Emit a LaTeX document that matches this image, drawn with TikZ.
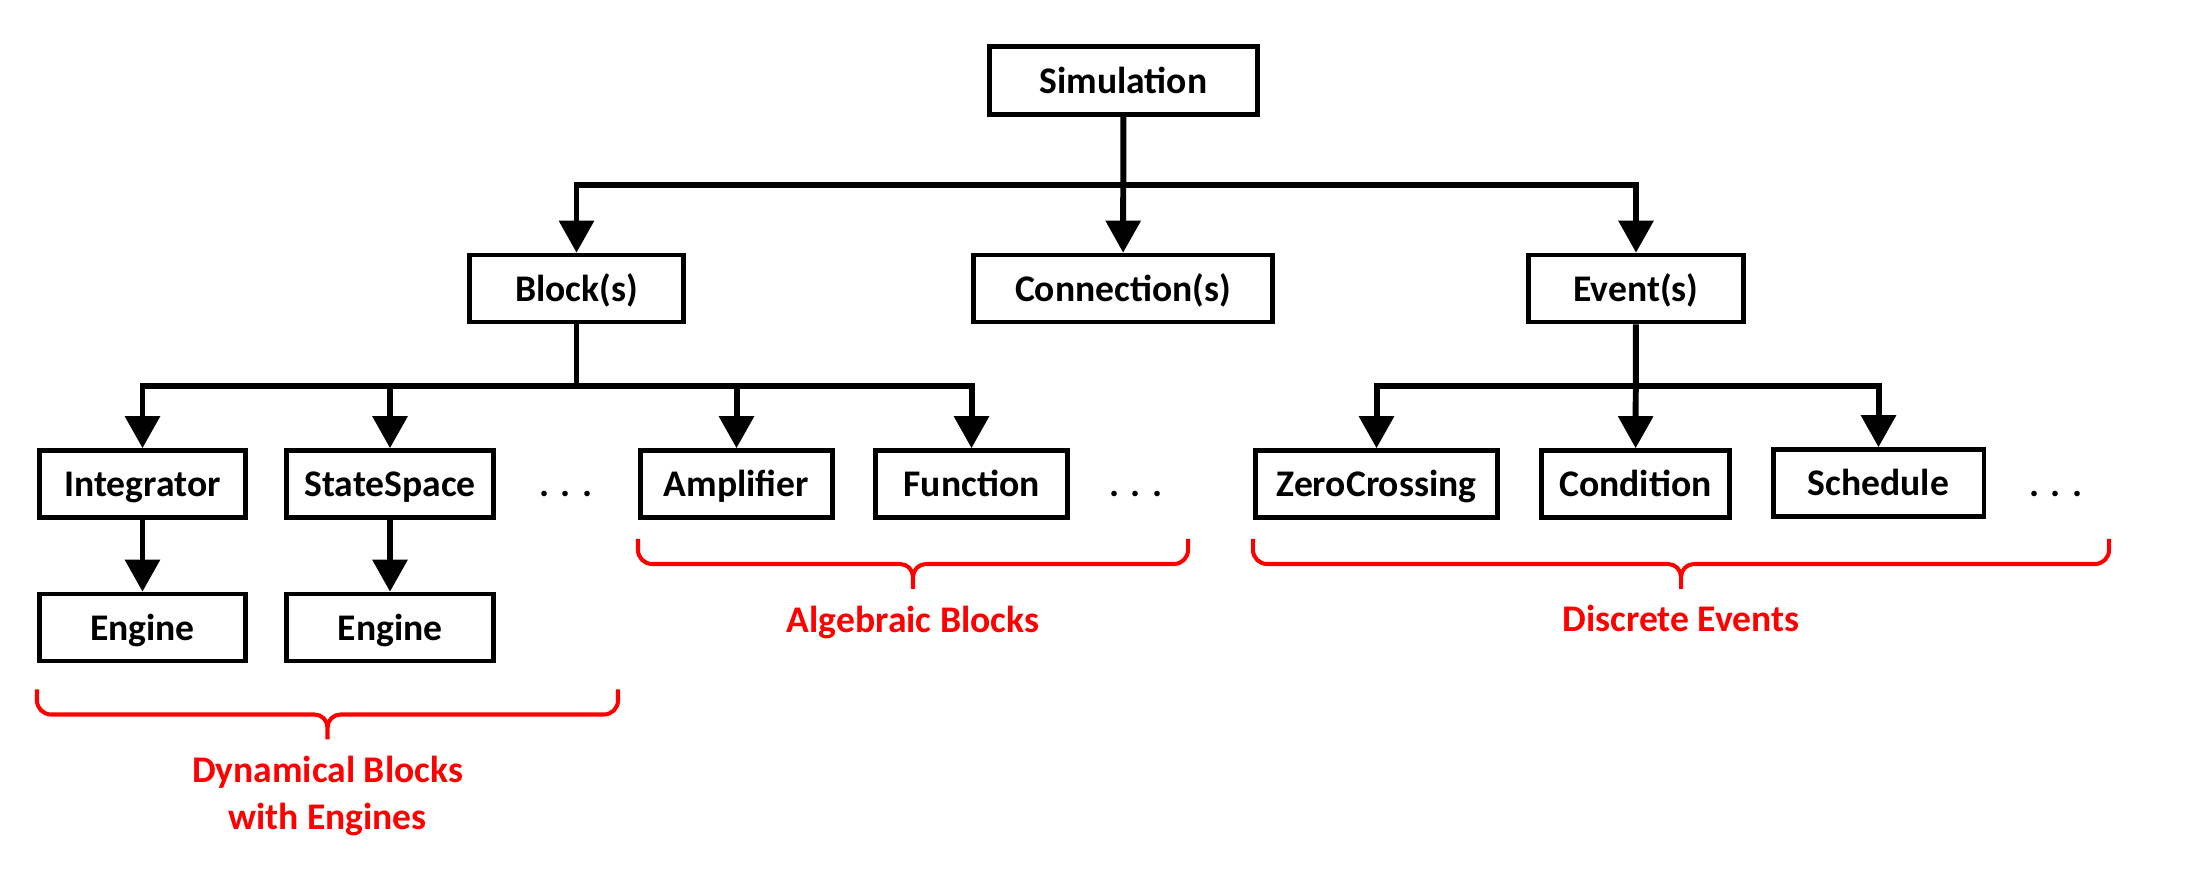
\documentclass[tikz,border=0pt]{standalone}
\usepackage{fontspec}
\setmainfont{Carlito}
\usetikzlibrary{arrows.meta}

\begin{document}
\begin{tikzpicture}[every node/.style = {font = \bfseries\fontsize{10.7}{13}\selectfont},
  box/.style = {draw, line width = 1.3pt, inner sep = 0pt, minimum height = 0.67cm, text height = 0.34cm, text depth = 0.08cm},
  link/.style = {-{Triangle[width = 0.34cm, length = 0.32cm]}, line width = 1.7pt},
  curly/.style = {draw = red, line width = 1.15pt},
  note/.style = {text = red, anchor = base}]
\useasboundingbox (0, 0) rectangle (22.09, 8.75);
% tree
\node[box, minimum width = 2.685cm, minimum height = 0.685cm] (v0) at (11.235, 7.945) {Simulation};
\node[box, minimum width = 2.145cm] (v1) at (5.765, 5.865) {Block(s)};
\node[box, minimum width = 2.995cm] (v2) at (11.23, 5.865) {Connection(s)};
\node[box, minimum width = 2.155cm] (v3) at (16.36, 5.865) {Event(s)};
\node[box, minimum width = 2.065cm] (v4) at (1.425, 3.91) {Integrator};
\node[box, minimum width = 2.075cm] (v5) at (3.90, 3.91) {StateSpace};
\node[box, minimum width = 1.925cm] (v6) at (7.365, 3.91) {Amplifier};
\node[box, minimum width = 1.925cm] (v7) at (9.715, 3.91) {Function};
\node[box, minimum width = 2.425cm] (v8) at (13.765, 3.91) {ZeroCrossing};
\node[box, minimum width = 1.885cm] (v9) at (16.355, 3.91) {Condition};
\node[box, minimum width = 2.105cm] (v10) at (18.785, 3.92) {Schedule};
\node[box, minimum width = 2.065cm] (v11) at (1.425, 2.475) {Engine};
\node[box, minimum width = 2.075cm] (v12) at (3.90, 2.475) {Engine};
\node[anchor = base] (d1) at (5.66, 3.78) {. . .};
\node[anchor = base] (d2) at (11.36, 3.78) {. . .};
\node[anchor = base] (d3) at (20.56, 3.78) {. . .};
% connectors
\coordinate (j0) at (11.235, 6.90);
\coordinate (j1) at (5.765, 4.89);
\coordinate (j2) at (16.36, 4.89);
\draw[link] (v0) -- (v2);
\draw[link] (j0) -| (v1);
\draw[link] (j0) -| (v3);
\draw[link] (v1) -- (j1) -| (v4);
\draw[link] (j1) -| (v5);
\draw[link] (j1) -| (v6);
\draw[link] (j1) -| (v7);
\draw[link] (v3) -- (v9);
\draw[link] (j2) -| (v8);
\draw[link] (j2) -| (v10);
\draw[link] (v4) -- (v11);
\draw[link] (v5) -- (v12);
% groups
\foreach \xa/\xm/\xb/\y in {0.37/3.275/6.18/1.855, 6.38/9.13/11.88/3.36, 12.53/16.81/21.09/3.36}
{
  \draw[curly] (\xa, \y) -- ++(0, -0.11) arc[start angle = 180, end angle = 270, radius = 0.14]
    -- (\xm - 0.13, \y - 0.25) arc[start angle = 90, end angle = 0, radius = 0.13] -- (\xm, \y - 0.5);
  \draw[curly] (\xm, \y - 0.38) arc[start angle = 180, end angle = 90, radius = 0.13]
    -- (\xb - 0.14, \y - 0.25) arc[start angle = -90, end angle = 0, radius = 0.14] -- (\xb, \y);
}
\node[note] (n1) at (3.275, 0.92) {Dynamical Blocks};
\node[note] (n2) at (3.275, 0.45) {with Engines};
\node[note] (n3) at (9.13, 2.42) {Algebraic Blocks};
\node[note] (n4) at (16.81, 2.43) {Discrete Events};
\end{tikzpicture}
\end{document}
